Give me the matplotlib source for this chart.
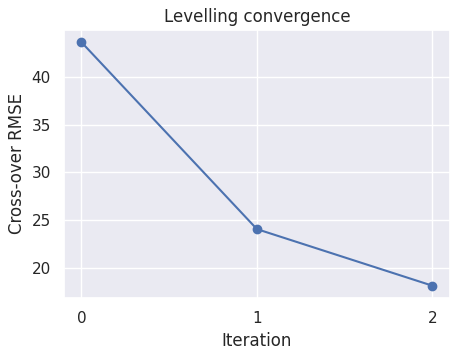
import matplotlib
matplotlib.use("Agg")
import matplotlib.pyplot as plt
import seaborn as sns

sns.set_theme(style="darkgrid")

iterations = [0, 1, 2]
rmse = [43.65, 24.06, 18.13]

fig, ax = plt.subplots(figsize=(4.6, 3.58), dpi=100)
ax.plot(iterations, rmse, marker="o", color="#4c72b0")
ax.set_xticks(iterations)
ax.set_xlabel("Iteration")
ax.set_ylabel("Cross-over RMSE")
ax.set_title("Levelling convergence")
fig.subplots_adjust(left=0.139, right=0.978, top=0.916, bottom=0.168)
fig.savefig("out.png", dpi=100)
